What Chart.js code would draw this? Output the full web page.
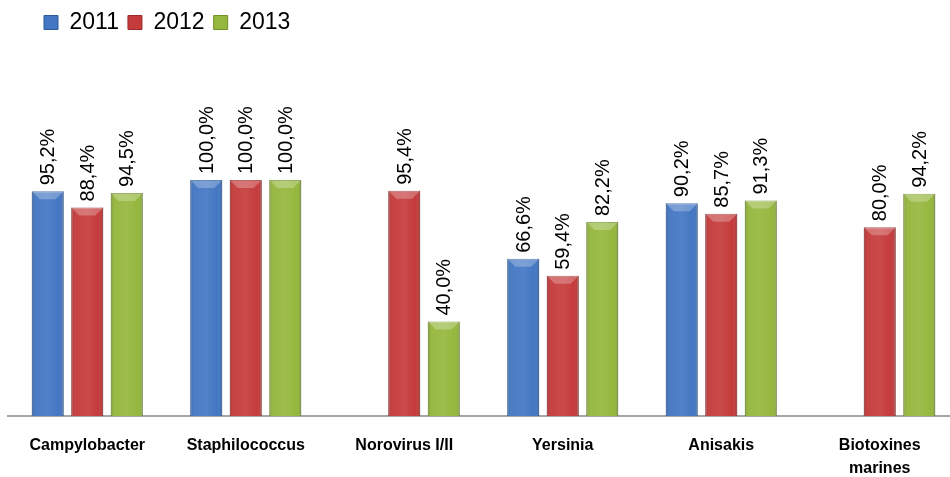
<!DOCTYPE html>
<html>
<head>
<meta charset="utf-8">
<script src="https://cdn.jsdelivr.net/npm/chart.js@4.4.1/dist/chart.umd.min.js"></script>
<style>
  html, body { margin: 0; padding: 0; background: #fff; overflow: hidden; }
  #wrap { width: 959px; height: 477px; position: relative; }
</style>
</head>
<body>
<div id="wrap"><canvas id="chart"></canvas></div>
<script>
const categories = ['Campylobacter', 'Staphilococcus', 'Norovirus I/II', 'Yersinia', 'Anisakis', ['Biotoxines', 'marines']];
const years = ['2011', '2012', '2013'];
const values2011 = [95.2, 100.0, null, 66.6, 90.2, null];
const values2012 = [88.4, 100.0, 95.4, 59.4, 85.7, 80.0];
const values2013 = [94.5, 100.0, 40.0, 82.2, 91.3, 94.2];

const colors = ['#4377c3', '#c53b3b', '#95b73d'];
const edges = ['#2c5a9c', '#9c2a2a', '#72912a'];

const fontFamily = '"Liberation Sans", Arial, sans-serif';

// push the legend down so the plot starts lower, and nudge it right
const legendSpace = {
  id: 'legendSpace',
  beforeInit(chart) {
    const fit = chart.legend.fit;
    chart.legend.fit = function () {
      fit.bind(chart.legend)();
      this.height = 178;
    };
  },
  afterLayout(chart) {
    chart.legend.left += 27;
    chart.legend.right += 27;
  }
};

// bevel look on the bars
const bevel = {
  id: 'bevel',
  afterDatasetsDraw(chart) {
    const ctx = chart.ctx;
    chart.data.datasets.forEach((ds, di) => {
      const meta = chart.getDatasetMeta(di);
      meta.data.forEach((bar, i) => {
        if (ds.data[i] == null) return;
        const w = bar.width;
        const l = bar.x - w / 2;
        const top = bar.y;
        const h = bar.base - bar.y;
        ctx.save();
        const g = ctx.createLinearGradient(l, 0, l + w, 0);
        g.addColorStop(0, 'rgba(0,0,0,0.15)');
        g.addColorStop(0.15, 'rgba(255,255,255,0.04)');
        g.addColorStop(0.5, 'rgba(255,255,255,0.08)');
        g.addColorStop(0.85, 'rgba(255,255,255,0.0)');
        g.addColorStop(1, 'rgba(0,0,0,0.2)');
        ctx.fillStyle = g;
        ctx.fillRect(l, top, w, h);
        // top facet
        ctx.fillStyle = 'rgba(255,255,255,0.25)';
        ctx.beginPath();
        ctx.moveTo(l, top);
        ctx.lineTo(l + w, top);
        ctx.lineTo(l + w - 8, top + 8);
        ctx.lineTo(l + 8, top + 8);
        ctx.closePath();
        ctx.fill();
        ctx.restore();
      });
    });
  }
};

// rotated value labels above the bars
const valueLabels = {
  id: 'valueLabels',
  afterDatasetsDraw(chart) {
    const ctx = chart.ctx;
    ctx.save();
    ctx.font = '20px ' + fontFamily;
    ctx.fillStyle = '#000';
    ctx.textAlign = 'left';
    ctx.textBaseline = 'middle';
    chart.data.datasets.forEach((ds, di) => {
      const meta = chart.getDatasetMeta(di);
      meta.data.forEach((bar, i) => {
        const v = ds.data[i];
        if (v == null) return;
        const txt = v.toFixed(1).replace('.', ',') + '%';
        ctx.save();
        ctx.translate(bar.x, bar.y - 6);
        ctx.rotate(-Math.PI / 2);
        ctx.fillText(txt, 0, 1);
        ctx.restore();
      });
    });
    ctx.restore();
  }
};

const ctx = document.getElementById('chart').getContext('2d');
const chart = new Chart(ctx, {
  type: 'bar',
  data: {
    labels: categories,
    datasets: [values2011, values2012, values2013].map((vals, k) => ({
      label: years[k],
      data: vals,
      backgroundColor: colors[k],
      borderColor: edges[k],
      borderWidth: 1,
      categoryPercentage: 0.748,
      barPercentage: 0.81
    }))
  },
  options: {
    responsive: true,
    maintainAspectRatio: false,
    animation: false,
    layout: {
      padding: { left: 8, right: 0, top: 2, bottom: 0 }
    },
    scales: {
      x: {
        grid: { display: false, drawTicks: false },
        border: { display: true, color: '#a6a6a6', width: 2 },
        afterFit(scale) { scale.height = 61; },
        ticks: {
          color: '#000',
          padding: 18,
          maxRotation: 0,
          autoSkip: false,
          font: { family: fontFamily, size: 16, weight: 'bold', lineHeight: 1.45 }
        }
      },
      y: {
        display: false,
        min: 0,
        max: 100
      }
    },
    plugins: {
      legend: {
        position: 'top',
        align: 'start',
        labels: {
          boxWidth: 14,
          boxHeight: 14,
          padding: 9,
          color: '#000',
          font: { family: fontFamily, size: 23 }
        }
      },
      tooltip: { enabled: false }
    }
  },
  plugins: [legendSpace, bevel, valueLabels]
});
</script>
</body>
</html>
